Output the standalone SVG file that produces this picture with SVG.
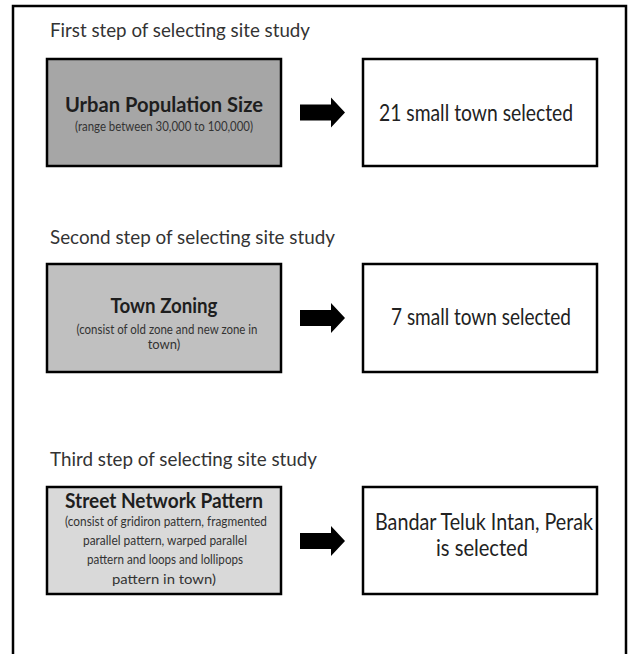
<svg xmlns="http://www.w3.org/2000/svg" width="632" height="654" viewBox="0 0 632 654">
<style>
  .frame{fill:none;stroke:#000;stroke-width:2.5}
  .box{stroke:#000;stroke-width:2.5}
  .step{font-family:Lato,"Open Sans","Liberation Sans",sans-serif;font-size:20px;fill:#333}
  .head{font-family:Lato,"Open Sans","Liberation Sans",sans-serif;font-size:21px;font-weight:bold;fill:#1e1e1e;text-anchor:middle}
  .sub{font-family:Lato,"Open Sans","Liberation Sans",sans-serif;font-size:13px;fill:#333;text-anchor:middle}
  .res{font-family:Lato,"Open Sans","Liberation Sans",sans-serif;font-size:23px;fill:#222;text-anchor:middle}
  .arrow{fill:#000}
</style>
<defs>
  <polygon id="arr" points="0,-8 31,-8 31,-15 45,0 31,15 31,8 0,8"/>
</defs>
<rect x="0" y="0" width="632" height="654" fill="#fff"/>
<path class="frame" d="M13,654 V6 H626 V654"/>

<g id="titles">
  <text class="step" x="50" y="37" textLength="260" lengthAdjust="spacingAndGlyphs">First step of selecting site study</text>
  <text class="step" x="50" y="244" textLength="285" lengthAdjust="spacingAndGlyphs">Second step of selecting site study</text>
  <text class="step" x="50" y="466" textLength="267" lengthAdjust="spacingAndGlyphs">Third step of selecting site study</text>
</g>

<g id="node-population">
  <rect class="box" x="47" y="59" width="234" height="107" fill="#a6a6a6"/>
  <text class="head" x="164" y="112" textLength="198" lengthAdjust="spacingAndGlyphs">Urban Population Size</text>
  <text class="sub" x="164" y="131" textLength="178" lengthAdjust="spacingAndGlyphs">(range between 30,000 to 100,000)</text>
</g>
<g id="node-result1">
  <rect class="box" x="363" y="59" width="234" height="107" fill="#fff"/>
  <text class="res" x="476" y="121" textLength="194" lengthAdjust="spacingAndGlyphs">21 small town selected</text>
</g>

<g id="node-zoning">
  <rect class="box" x="47" y="264" width="234" height="108" fill="#c0c0c0"/>
  <text class="head" x="164" y="313" font-size="22" textLength="107" lengthAdjust="spacingAndGlyphs">Town Zoning</text>
  <text class="sub" x="167" y="334" textLength="181" lengthAdjust="spacingAndGlyphs">(consist of old zone and new zone in</text>
  <text class="sub" x="164" y="349">town)</text>
</g>
<g id="node-result2">
  <rect class="box" x="363" y="264" width="234" height="108" fill="#fff"/>
  <text class="res" x="481" y="325" textLength="180" lengthAdjust="spacingAndGlyphs">7 small town selected</text>
</g>

<g id="node-street">
  <rect class="box" x="47" y="487" width="234" height="107" fill="#d9d9d9"/>
  <text class="head" x="164" y="508" textLength="198" lengthAdjust="spacingAndGlyphs">Street Network Pattern</text>
  <text class="sub" x="166" y="526" textLength="202" lengthAdjust="spacingAndGlyphs">(consist of gridiron pattern, fragmented</text>
  <text class="sub" x="165" y="545" textLength="164" lengthAdjust="spacingAndGlyphs">parallel pattern, warped parallel</text>
  <text class="sub" x="165" y="564" textLength="156" lengthAdjust="spacingAndGlyphs">pattern and loops and lollipops</text>
  <text class="sub" x="164" y="584" textLength="104" lengthAdjust="spacingAndGlyphs">pattern in town)</text>
</g>
<g id="node-result3">
  <rect class="box" x="363" y="487" width="234" height="107" fill="#fff"/>
  <text class="res" x="484" y="530" textLength="218" lengthAdjust="spacingAndGlyphs">Bandar Teluk Intan, Perak</text>
  <text class="res" x="482" y="556" textLength="92" lengthAdjust="spacingAndGlyphs">is selected</text>
</g>

<g id="connectors">
  <use href="#arr" class="arrow" x="300" y="112.5"/>
  <use href="#arr" class="arrow" x="300" y="318"/>
  <use href="#arr" class="arrow" x="300" y="541"/>
</g>
</svg>
